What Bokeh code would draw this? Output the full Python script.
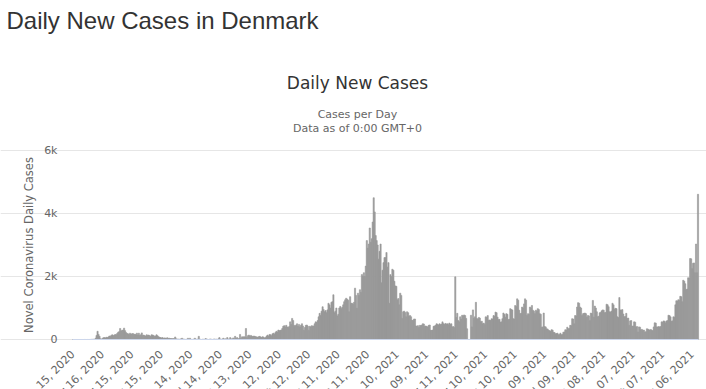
import math
import pandas as pd
from bokeh.plotting import figure
from bokeh.models import ColumnDataSource, Range1d, FixedTicker, Label, LinearAxis
from bokeh.embed import file_html
from bokeh.resources import INLINE

# Daily new cases in Denmark (one value per day, by month)
cases_2020_02 = [0, 0, 0, 0, 0, 0, 0, 0, 0, 0, 0, 0, 1, 0, 0]
cases_2020_03 = [1, 0, 1, 2, 5, 5, 8, 3, 40, 130, 260, 160, 100, 20, 10, 35, 55, 60, 50, 70,
                 60, 80, 110, 100, 130, 150, 120, 140, 160, 150, 190]
cases_2020_04 = [230, 250, 350, 270, 290, 300, 360, 280, 220, 190, 180, 160, 200, 170, 180,
                 190, 160, 170, 150, 200, 140, 200, 130, 150, 210, 130, 140, 120, 110, 150]
cases_2020_05 = [130, 140, 120, 100, 150, 140, 130, 100, 110, 150, 120, 90, 70, 60, 50, 60,
                 40, 50, 45, 40, 55, 35, 40, 30, 30, 25, 30, 20, 80, 20, 10]
cases_2020_06 = [15, 5, 10, 20, 40, 15, 10, 5, 0, 10, 40, 5, 40, 10, 0, 5, 10, 40, 10, 5,
                 10, 100, 10, 5, 0, 10, 5, 5, 30, 10]
cases_2020_07 = [5, 0, 10, 15, 5, 0, 10, 15, 5, 10, 0, 20, 60, 10, 5, 15, 40, 10, 20, 10,
                 60, 15, 10, 60, 20, 10, 50, 20, 100, 30, 60]
cases_2020_08 = [20, 30, 160, 40, 85, 80, 90, 80, 350, 60, 120, 140, 100, 130, 110, 90, 110,
                 100, 90, 80, 70, 90, 100, 80, 60, 90, 70, 50, 60, 110, 140]
cases_2020_09 = [100, 160, 150, 120, 180, 200, 170, 220, 260, 240, 300, 280, 290, 300, 350,
                 420, 440, 400, 450, 400, 380, 410, 560, 480, 670, 600, 450, 420, 460, 500]
cases_2020_10 = [420, 480, 400, 450, 500, 430, 290, 380, 450, 460, 420, 290, 420, 400, 440,
                 420, 430, 500, 560, 540, 600, 720, 830, 760, 900, 1040, 950, 880, 920, 850, 940]
cases_2020_11 = [1150, 1100, 1000, 1180, 1200, 1420, 850, 900, 1000, 750, 800, 1000, 1050,
                 980, 1020, 1100, 1200, 1260, 1310, 1280, 1250, 880, 1360, 1150, 1150, 1120,
                 1180, 1630, 1400, 990]
cases_2020_12 = [1470, 1400, 1580, 1500, 2060, 2000, 2120, 2000, 2330, 3140, 2900, 3030,
                 3540, 3090, 3200, 3730, 4500, 4050, 3300, 3140, 3000, 2550, 2800, 3030, 1800,
                 2200, 2440, 2600, 2600, 2760, 2300]
cases_2021_01 = [2440, 1150, 2060, 2000, 2230, 2200, 1850, 1700, 1690, 1260, 1300, 1100,
                 1470, 1400, 670, 880, 900, 860, 720, 880, 850, 740, 760, 720, 610, 600, 650,
                 650, 430, 420, 440]
cases_2021_02 = [380, 450, 440, 460, 500, 490, 420, 430, 410, 400, 450, 460, 290, 290, 300,
                 420, 430, 450, 500, 480, 460, 500, 470, 490, 560, 500, 480, 510]
cases_2021_03 = [490, 500, 470, 520, 480, 500, 400, 410, 380, 1990, 700, 830, 600, 560, 720,
                 650, 770, 750, 780, 760, 670, 340, 0, 0, 0, 770, 400, 940, 670, 720, 1180]
cases_2021_04 = [670, 650, 700, 680, 560, 580, 500, 520, 480, 720, 700, 760, 610, 620, 600,
                 660, 650, 760, 740, 870, 850, 710, 630, 640, 550, 560, 660, 840, 800, 710]
cases_2021_05 = [820, 800, 630, 640, 980, 950, 940, 660, 650, 1080, 1050, 1290, 1250, 930,
                 820, 830, 1030, 1000, 1130, 1290, 1250, 760, 820, 800, 1030, 1000, 1080, 930,
                 900, 820, 930]
cases_2021_06 = [900, 980, 950, 820, 800, 390, 400, 840, 410, 400, 340, 330, 290, 280, 260,
                 310, 300, 230, 220, 180, 190, 200, 150, 160, 200, 150, 160, 230, 240, 310]
cases_2021_07 = [300, 390, 340, 350, 450, 440, 660, 650, 500, 760, 750, 1030, 1170, 1150,
                 1030, 1000, 760, 820, 830, 840, 820, 710, 760, 750, 600, 840, 820, 1240, 710,
                 1060, 1000]
cases_2021_08 = [880, 720, 740, 850, 860, 910, 940, 930, 850, 860, 1120, 1100, 1040, 880,
                 870, 900, 1150, 1100, 960, 990, 980, 720, 700, 1330, 940, 930, 950, 810, 720,
                 730, 830]
cases_2021_09 = [670, 680, 450, 590, 600, 420, 430, 560, 550, 400, 410, 240, 400, 390, 310,
                 320, 290, 300, 240, 250, 340, 330, 310, 300, 320, 290, 280, 400, 530, 520]
cases_2021_10 = [400, 400, 410, 400, 410, 560, 550, 590, 580, 530, 590, 600, 770, 760, 720,
                 580, 590, 720, 710, 1100, 1230, 1220, 1260, 1250, 1370, 1360, 1200, 1880,
                 1850, 1770, 1580]
cases_2021_11 = [1600, 1960, 1950, 2570, 2560, 2250, 2420, 2430, 2120, 3030, 2120, 4610]

first_day = "2020-02-15"

tick_labels = ["Feb 15, 2020", "Mar 16, 2020", "Apr 15, 2020", "May 15, 2020",
               "Jun 14, 2020", "Jul 14, 2020", "Aug 13, 2020", "Sep 12, 2020",
               "Oct 12, 2020", "Nov 11, 2020", "Dec 11, 2020", "Jan 10, 2021",
               "Feb 09, 2021", "Mar 11, 2021", "Apr 10, 2021", "May 10, 2021",
               "Jun 09, 2021", "Jul 09, 2021", "Aug 08, 2021", "Sep 07, 2021",
               "Oct 07, 2021", "Nov 06, 2021"]

y_ticks = [0, 2000, 4000, 6000]
y_tick_labels = ["0", "2k", "4k", "6k"]

heading = "Daily New Cases in Denmark"
chart_title = "Daily New Cases"
subtitle_1 = "Cases per Day"
subtitle_2 = "Data as of 0:00 GMT+0"
y_title = "Novel Coronavirus Daily Cases"

# ---------------------------------------------------------------------------
months = [cases_2020_02, cases_2020_03, cases_2020_04, cases_2020_05, cases_2020_06,
          cases_2020_07, cases_2020_08, cases_2020_09, cases_2020_10, cases_2020_11,
          cases_2020_12, cases_2021_01, cases_2021_02, cases_2021_03, cases_2021_04,
          cases_2021_05, cases_2021_06, cases_2021_07, cases_2021_08, cases_2021_09,
          cases_2021_10, cases_2021_11]
cases = [v for m in months for v in m]
n = len(cases)
dates = pd.date_range(first_day, periods=n, freq="D")
src = ColumnDataSource(dict(x=list(range(n)), cases=cases,
                            date=[d.strftime("%b %d, %Y") for d in dates]))
tick_pos = [int(dates.get_loc(pd.to_datetime(t, format="%b %d, %Y"))) for t in tick_labels]

# layout (pixels in the 706x389 canvas): plot area 72..698 x 150..339
W, H = 706, 389
PL, PR, PT, PB = 72, 698, 150, 339
y_max = y_ticks[-1]
sx = n / (PR - PL)            # data units per pixel (x)
sy = y_max / (PB - PT)        # data units per pixel (y)
x0 = -0.5 - PL * sx
x1 = n - 0.5 + (W - PR) * sx
y0 = -(H - PB) * sy
y1 = y_max + PT * sy


def X(px):
    return x0 + px * sx


def Y(py):
    return y1 - py * sy


p = figure(width=W, height=H, output_backend="svg", toolbar_location=None, title=None,
           x_range=Range1d(x0, x1), y_range=Range1d(y0, y1),
           x_axis_location=None, y_axis_location=None,
           min_border_left=0, min_border_right=0, min_border_top=0, min_border_bottom=0)
p.outline_line_color = None
p.background_fill_color = "white"
p.border_fill_color = "white"

yaxis = LinearAxis(fixed_location=-0.5, bounds=(0, y_max), ticker=FixedTicker(ticks=y_ticks))
yaxis.major_label_overrides = dict(zip(y_ticks, y_tick_labels))
yaxis.axis_line_color = None
yaxis.major_tick_line_color = None
yaxis.minor_tick_line_color = None
yaxis.major_tick_out = 0
yaxis.major_tick_in = 0
yaxis.major_label_standoff = 15
yaxis.major_label_text_font = "DejaVu Sans"
yaxis.major_label_text_font_size = "11px"
yaxis.major_label_text_color = "#666666"
yaxis.axis_label = y_title
yaxis.axis_label_text_font = "DejaVu Sans"
yaxis.axis_label_text_font_size = "11.5px"
yaxis.axis_label_text_font_style = "normal"
yaxis.axis_label_text_color = "#666666"
yaxis.axis_label_standoff = 5
p.add_layout(yaxis, "left")

# horizontal grid lines, only across the plot area
p.ygrid.grid_line_color = "#e6e6e6"
p.ygrid.ticker = FixedTicker(ticks=y_ticks)
p.ygrid.bounds = (-0.5, n - 0.5)
p.xgrid.grid_line_color = None

p.vbar(x="x", top="cases", width=1.2, source=src, fill_color="#999999",
       line_color="#999999", line_width=0.6)

xaxis = LinearAxis(fixed_location=0, bounds=(-0.5, n - 0.5), ticker=FixedTicker(ticks=tick_pos))
xaxis.major_label_overrides = dict(zip(tick_pos, tick_labels))
xaxis.axis_line_color = "#ccd6eb"
xaxis.major_tick_line_color = None
xaxis.minor_tick_line_color = None
xaxis.major_tick_out = 0
xaxis.major_tick_in = 0
xaxis.major_label_orientation = math.pi / 4
xaxis.major_label_standoff = 13
xaxis.major_label_text_font = "DejaVu Sans"
xaxis.major_label_text_font_size = "11px"
xaxis.major_label_text_color = "#666666"
p.add_layout(xaxis, "below")

# titles
p.add_layout(Label(x=X(6), y=Y(20), text=heading,
                   text_font="Liberation Sans", text_font_size="24px", text_color="#333333",
                   text_align="left", text_baseline="middle"))
p.add_layout(Label(x=X(357), y=Y(82), text=chart_title,
                   text_font="DejaVu Sans", text_font_size="17px", text_color="#333333",
                   text_align="center", text_baseline="middle"))
p.add_layout(Label(x=X(357), y=Y(114), text=subtitle_1,
                   text_font="DejaVu Sans", text_font_size="11px", text_color="#666666",
                   text_align="center", text_baseline="middle"))
p.add_layout(Label(x=X(357), y=Y(128), text=subtitle_2,
                   text_font="DejaVu Sans", text_font_size="11px", text_color="#666666",
                   text_align="center", text_baseline="middle"))

open("out.html", "w").write(file_html(p, INLINE))
